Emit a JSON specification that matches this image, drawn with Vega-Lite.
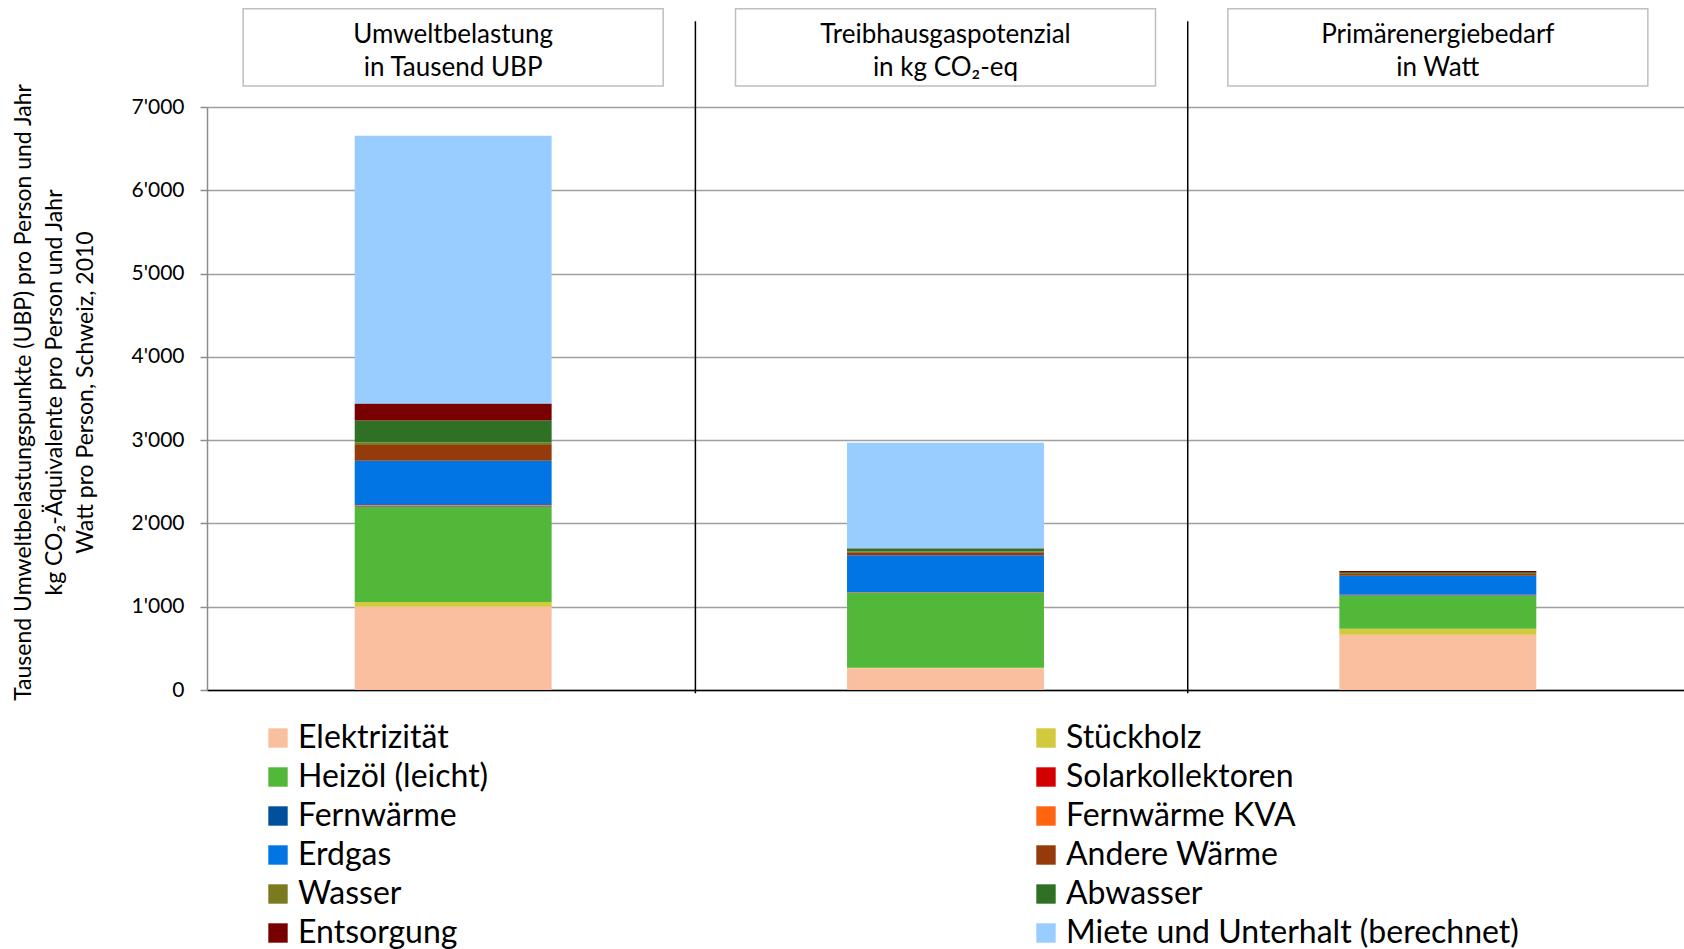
{
  "$schema": "https://vega.github.io/schema/vega-lite/v6.json",
  "autosize": {"type": "none"},
  "padding": {"left": 207, "top": 107, "right": 0, "bottom": 259},
  "width": 1477,
  "height": 583,
  "background": "white",
  "config": {
    "font": "Lato",
    "view": {"stroke": null}
  },
  "datasets": {
    "werte": [
      {"Indikator": "Umweltbelastung", "Quelle": "Elektrizität", "Wert": 1000},
      {"Indikator": "Umweltbelastung", "Quelle": "Stückholz", "Wert": 56},
      {"Indikator": "Umweltbelastung", "Quelle": "Heizöl (leicht)", "Wert": 1144},
      {"Indikator": "Umweltbelastung", "Quelle": "Solarkollektoren", "Wert": 5},
      {"Indikator": "Umweltbelastung", "Quelle": "Fernwärme", "Wert": 8},
      {"Indikator": "Umweltbelastung", "Quelle": "Fernwärme KVA", "Wert": 8},
      {"Indikator": "Umweltbelastung", "Quelle": "Erdgas", "Wert": 532},
      {"Indikator": "Umweltbelastung", "Quelle": "Andere Wärme", "Wert": 188},
      {"Indikator": "Umweltbelastung", "Quelle": "Wasser", "Wert": 32},
      {"Indikator": "Umweltbelastung", "Quelle": "Abwasser", "Wert": 264},
      {"Indikator": "Umweltbelastung", "Quelle": "Entsorgung", "Wert": 204},
      {"Indikator": "Umweltbelastung", "Quelle": "Miete und Unterhalt (berechnet)", "Wert": 3214},
      {"Indikator": "Treibhausgaspotenzial", "Quelle": "Elektrizität", "Wert": 260},
      {"Indikator": "Treibhausgaspotenzial", "Quelle": "Stückholz", "Wert": 8},
      {"Indikator": "Treibhausgaspotenzial", "Quelle": "Heizöl (leicht)", "Wert": 900},
      {"Indikator": "Treibhausgaspotenzial", "Quelle": "Solarkollektoren", "Wert": 3},
      {"Indikator": "Treibhausgaspotenzial", "Quelle": "Fernwärme", "Wert": 4},
      {"Indikator": "Treibhausgaspotenzial", "Quelle": "Fernwärme KVA", "Wert": 3},
      {"Indikator": "Treibhausgaspotenzial", "Quelle": "Erdgas", "Wert": 440},
      {"Indikator": "Treibhausgaspotenzial", "Quelle": "Andere Wärme", "Wert": 36},
      {"Indikator": "Treibhausgaspotenzial", "Quelle": "Wasser", "Wert": 8},
      {"Indikator": "Treibhausgaspotenzial", "Quelle": "Abwasser", "Wert": 36},
      {"Indikator": "Treibhausgaspotenzial", "Quelle": "Entsorgung", "Wert": 5},
      {"Indikator": "Treibhausgaspotenzial", "Quelle": "Miete und Unterhalt (berechnet)", "Wert": 1267},
      {"Indikator": "Primärenergiebedarf", "Quelle": "Elektrizität", "Wert": 664},
      {"Indikator": "Primärenergiebedarf", "Quelle": "Stückholz", "Wert": 72},
      {"Indikator": "Primärenergiebedarf", "Quelle": "Heizöl (leicht)", "Wert": 393},
      {"Indikator": "Primärenergiebedarf", "Quelle": "Solarkollektoren", "Wert": 4},
      {"Indikator": "Primärenergiebedarf", "Quelle": "Fernwärme", "Wert": 4},
      {"Indikator": "Primärenergiebedarf", "Quelle": "Fernwärme KVA", "Wert": 8},
      {"Indikator": "Primärenergiebedarf", "Quelle": "Erdgas", "Wert": 228},
      {"Indikator": "Primärenergiebedarf", "Quelle": "Andere Wärme", "Wert": 28},
      {"Indikator": "Primärenergiebedarf", "Quelle": "Wasser", "Wert": 4},
      {"Indikator": "Primärenergiebedarf", "Quelle": "Abwasser", "Wert": 12},
      {"Indikator": "Primärenergiebedarf", "Quelle": "Entsorgung", "Wert": 12},
      {"Indikator": "Primärenergiebedarf", "Quelle": "Miete und Unterhalt (berechnet)", "Wert": 0}
    ],
    "kopf": [
      {"Indikator": "Umweltbelastung", "Titel": "Umweltbelastung\nin Tausend UBP", "Trenner": true},
      {"Indikator": "Treibhausgaspotenzial", "Titel": "Treibhausgaspotenzial\nin kg CO₂-eq", "Trenner": true},
      {"Indikator": "Primärenergiebedarf", "Titel": "Primärenergiebedarf\nin Watt", "Trenner": false}
    ]
  },
  "encoding": {
    "x": {
      "field": "Indikator",
      "type": "nominal",
      "sort": ["Umweltbelastung", "Treibhausgaspotenzial", "Primärenergiebedarf"],
      "scale": {
        "domain": ["Umweltbelastung", "Treibhausgaspotenzial", "Primärenergiebedarf"],
        "paddingInner": 0.6,
        "paddingOuter": 0.3
      },
      "axis": {
        "title": null,
        "labels": false,
        "ticks": false,
        "domainColor": "#000000",
        "domainWidth": 1.5,
        "grid": false
      }
    }
  },
  "layer": [
    {
      "data": {"name": "werte"},
      "transform": [
        {"window": [{"op": "row_number", "as": "Rang"}], "groupby": ["Indikator"]}
      ],
      "mark": {"type": "bar"},
      "encoding": {
        "y": {
          "field": "Wert",
          "type": "quantitative",
          "stack": "zero",
          "scale": {"domain": [0, 7000], "nice": false, "zero": true},
          "axis": {
            "values": [0, 1000, 2000, 3000, 4000, 5000, 6000, 7000],
            "labelExpr": "replace(format(datum.value, ','), ',', \"'\")",
            "labelFontSize": 21,
            "labelColor": "#000000",
            "labelPadding": 16,
            "tickSize": 7,
            "tickColor": "#8C8C8C",
            "tickWidth": 1.5,
            "domainColor": "#8C8C8C",
            "domainWidth": 1.5,
            "grid": true,
            "gridColor": "#A0A0A0",
            "gridWidth": 1.5,
            "title": [
              "Tausend Umweltbelastungspunkte (UBP) pro Person und Jahr",
              "kg CO₂-Äquivalente pro Person und Jahr",
              "Watt pro Person, Schweiz, 2010"
            ],
            "titleFontSize": 23,
            "titleFontWeight": "normal",
            "titleColor": "#000000",
            "titleLineHeight": 31,
            "titleAngle": -90,
            "titleAlign": "center",
            "titleBaseline": "middle",
            "titleX": -184,
            "titleY": 285
          }
        },
        "order": {"field": "Rang", "type": "quantitative", "sort": "ascending"},
        "color": {
          "field": "Quelle",
          "type": "nominal",
          "scale": {
            "domain": [
              "Elektrizität", "Heizöl (leicht)", "Fernwärme", "Erdgas",
              "Wasser", "Entsorgung", "Stückholz", "Solarkollektoren",
              "Fernwärme KVA", "Andere Wärme", "Abwasser", "Miete und Unterhalt (berechnet)"
            ],
            "range": [
              "#F9BF9E", "#52B83A", "#00509E", "#0075E3",
              "#7B7A1F", "#780000", "#D3C93C", "#D40000",
              "#FF6510", "#953A0A", "#307024", "#99CCFF"
            ]
          },
          "legend": {
            "title": null,
            "orient": "none",
            "legendX": 55,
            "legendY": 615,
            "columns": 2,
            "columnPadding": 541,
            "rowPadding": 7,
            "symbolType": "square",
            "symbolSize": 376,
            "symbolStrokeWidth": 0,
            "symbolOpacity": 1,
            "labelFontSize": 32,
            "labelColor": "#000000",
            "labelOffset": 4,
            "labelLimit": 700
          }
        }
      }
    },
    {
      "data": {"name": "kopf"},
      "mark": {"type": "bar", "width": 420, "fill": "#FFFFFF", "stroke": "#BFBFBF", "strokeWidth": 1.5},
      "encoding": {
        "y": {"datum": 8181, "type": "quantitative"},
        "y2": {"datum": 7252}
      }
    },
    {
      "data": {"name": "kopf"},
      "mark": {"type": "text", "fontSize": 26, "lineBreak": "\n", "lineHeight": 33, "align": "center", "baseline": "middle", "color": "#000000"},
      "encoding": {
        "y": {"datum": 7859, "type": "quantitative"},
        "text": {"field": "Titel"}
      }
    },
    {
      "data": {"name": "kopf"},
      "transform": [{"filter": "datum.Trenner"}],
      "mark": {"type": "rule", "color": "#000000", "strokeWidth": 1.5},
      "encoding": {
        "x": {"field": "Indikator", "type": "nominal", "bandPosition": 1.73},
        "y": {"datum": 8030, "type": "quantitative"},
        "y2": {"datum": -40}
      }
    },
    {
      "mark": {"type": "rule", "color": "#000000", "strokeWidth": 1.5},
      "encoding": {
        "y": {"datum": 7000, "type": "quantitative"}
      }
    }
  ]
}
